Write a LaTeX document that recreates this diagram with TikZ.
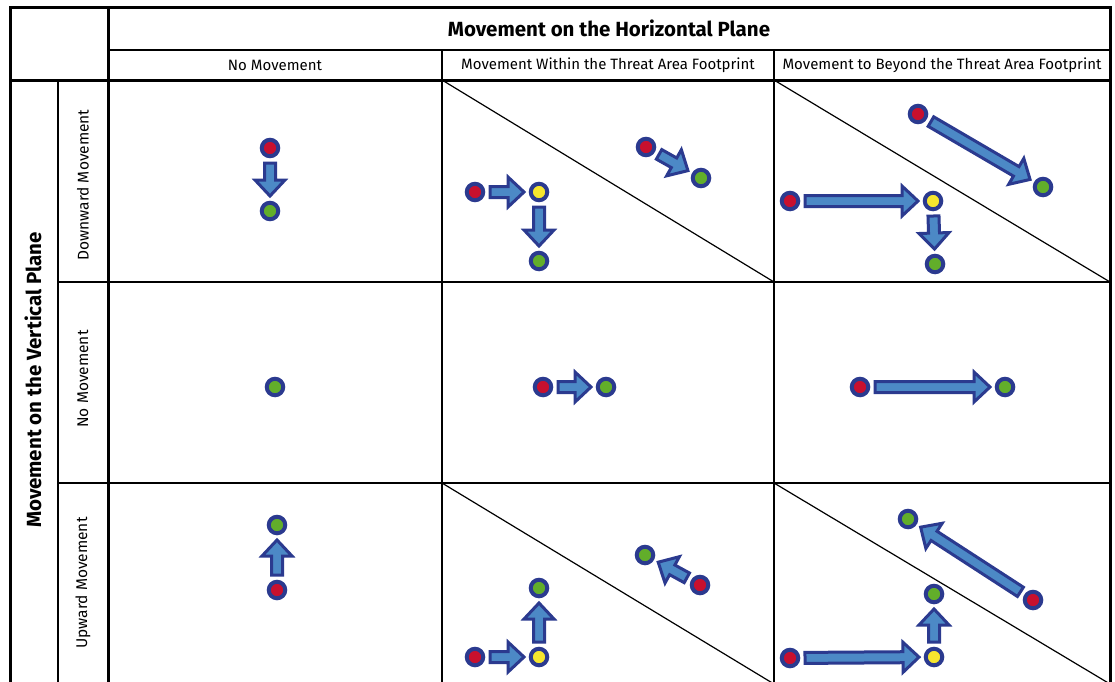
\documentclass[tikz,border=0pt]{standalone}
\usepackage{fontspec}
\setmainfont{Fira Sans}
\usetikzlibrary{calc}

\definecolor{dotrim}{HTML}{2B3A8F}
\definecolor{dotred}{HTML}{C8102E}
\definecolor{dotgreen}{HTML}{62AE2A}
\definecolor{dotyellow}{HTML}{F6E62E}
\definecolor{arrowfill}{HTML}{4C89C6}

\tikzset{
  dot/.style={circle, draw=dotrim, line width=4pt, minimum size=16.5pt, inner sep=0pt},
  startdot/.style={dot, fill=dotred},
  middot/.style={dot, fill=dotyellow},
  enddot/.style={dot, fill=dotgreen},
  barrow/.style={draw=dotrim, fill=arrowfill, line width=3pt, line join=miter},
  heavyrule/.style={line width=3pt},
  lightrule/.style={line width=1.8pt},
  diagrule/.style={line width=1.2pt},
  headtitle/.style={font=\bfseries\fontsize{20.5}{24}\selectfont},
  colhead/.style={font=\fontsize{15}{18}\selectfont},
  rowhead/.style={font=\fontsize{15.5}{18}\selectfont, rotate=90},
}

% block arrow from node #1 to node #2, leaving a gap at both dots
\newcommand\blockarrow[2]{%
  \coordinate (ba-s) at ($(#1)!15pt!(#2)$);
  \coordinate (ba-t) at ($(#2)!15pt!(#1)$);
  \coordinate (ba-h) at ($(ba-t)!16pt!(ba-s)$);
  \draw[barrow] ($(ba-s)!5.5pt!90:(ba-t)$) -- ($(ba-h)!5.5pt!-90:(ba-s)$)
    -- ($(ba-h)!15pt!-90:(ba-s)$) -- (ba-t) -- ($(ba-h)!15pt!90:(ba-s)$)
    -- ($(ba-h)!5.5pt!90:(ba-s)$) -- ($(ba-s)!5.5pt!-90:(ba-t)$) -- cycle;
}

\begin{document}
\begin{tikzpicture}[x=1pt, y=-1pt]
\useasboundingbox (0,0) rectangle (1115,681);
\fill[white] (0,0) rectangle (1115,681);

% ---- grid ----
\draw[lightrule] (108,50) -- (1110,50);
\draw[lightrule] (58,80) -- (58,690);
\draw[lightrule] (442,50) -- (442,690);
\draw[lightrule] (774,50) -- (774,690);
\draw[lightrule] (58,282) -- (1110,282);
\draw[lightrule] (58,483) -- (1110,483);
\draw[heavyrule] (10,80) -- (1110,80);
\draw[heavyrule] (108,7) -- (108,690);
\draw[heavyrule] (10,690) -- (10,7) -- (1110,7) -- (1110,690);

% diagonals marking the threat area footprint
\draw[diagrule] (442,80) -- (774,282);
\draw[diagrule] (774,80) -- (1110,282);
\draw[diagrule] (442,483) -- (774,684);
\draw[diagrule] (774,483) -- (1110,684);

% ---- headings ----
\node[headtitle] (htitle) at (609,28.5) {Movement on the Horizontal Plane};
\node[colhead] (hc1) at (275,65) {No Movement};
\node[colhead] (hc2) at (608,65) {Movement Within the Threat Area Footprint};
\node[colhead] (hc3) at (942,65) {Movement to Beyond the Threat Area Footprint};
\node[headtitle, rotate=90] (vtitle) at (33,380) {Movement on the Vertical Plane};
\node[rowhead] (vr1) at (83,185) {Downward Movement};
\node[rowhead] (vr2) at (83,379) {No Movement};
\node[rowhead] (vr3) at (83,583) {Upward Movement};

% ---- row 1: downward movement ----
\node[startdot] (a1) at (270,148) {};
\node[enddot]   (a2) at (270,211) {};
\blockarrow{a1}{a2}

\node[startdot] (b1) at (475,192) {};
\node[middot]   (b2) at (539,192) {};
\node[enddot]   (b3) at (539,261) {};
\blockarrow{b1}{b2}
\blockarrow{b2}{b3}
\node[startdot] (b4) at (646,147) {};
\node[enddot]   (b5) at (701,178) {};
\blockarrow{b4}{b5}

\node[startdot] (c1) at (790,201) {};
\node[middot]   (c2) at (933,201) {};
\node[enddot]   (c3) at (935,264) {};
\blockarrow{c1}{c2}
\blockarrow{c2}{c3}
\node[startdot] (c4) at (918,114) {};
\node[enddot]   (c5) at (1043,187) {};
\blockarrow{c4}{c5}

% ---- row 2: no vertical movement ----
\node[enddot]   (d1) at (275,387) {};

\node[startdot] (e1) at (543,387) {};
\node[enddot]   (e2) at (606,387) {};
\blockarrow{e1}{e2}

\node[startdot] (f1) at (860,387) {};
\node[enddot]   (f2) at (1005,387) {};
\blockarrow{f1}{f2}

% ---- row 3: upward movement ----
\node[startdot] (g1) at (277,590) {};
\node[enddot]   (g2) at (277,525) {};
\blockarrow{g1}{g2}

\node[startdot] (h1) at (475,657) {};
\node[middot]   (h2) at (539,657) {};
\node[enddot]   (h3) at (539,588) {};
\blockarrow{h1}{h2}
\blockarrow{h2}{h3}
\node[startdot] (h4) at (700,585) {};
\node[enddot]   (h5) at (645,555) {};
\blockarrow{h4}{h5}

\node[startdot] (k1) at (790,658) {};
\node[middot]   (k2) at (934,657) {};
\node[enddot]   (k3) at (934,594) {};
\blockarrow{k1}{k2}
\blockarrow{k2}{k3}
\node[startdot] (k4) at (1033,600) {};
\node[enddot]   (k5) at (908,519) {};
\blockarrow{k4}{k5}
\end{tikzpicture}
\end{document}
